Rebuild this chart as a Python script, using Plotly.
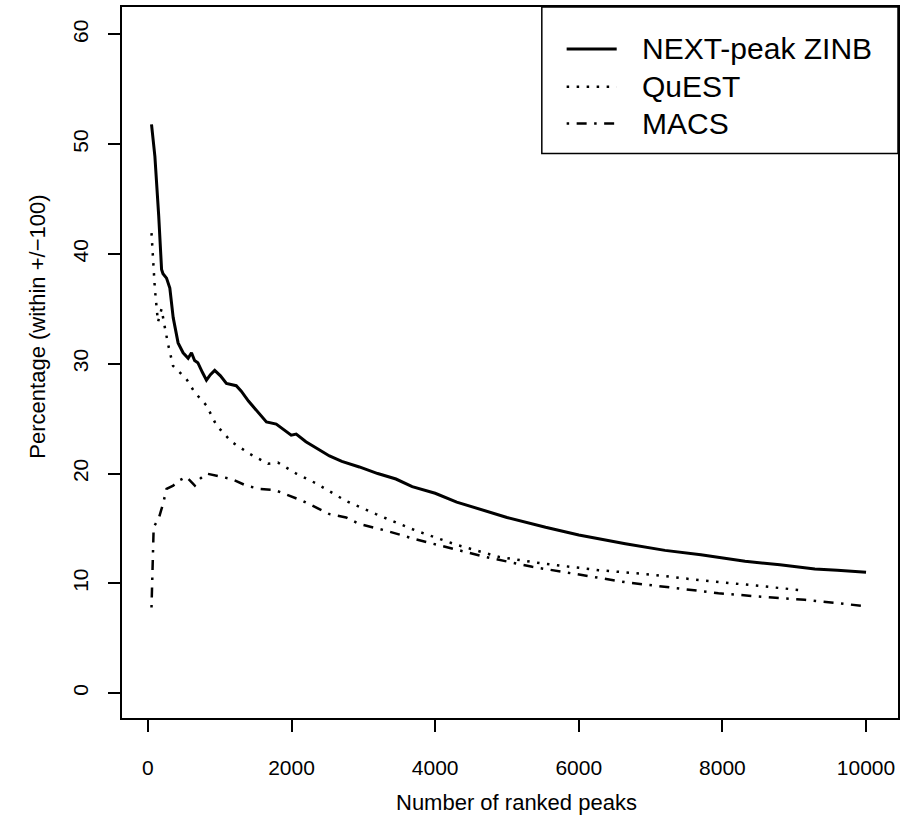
import plotly.graph_objects as go

# Number of top-ranked peaks considered
rank_next = [50, 97, 150, 190, 210, 259, 305, 352, 420, 490, 560, 607, 650, 695, 760,
             815, 870, 930, 1010, 1093, 1230, 1300, 1400, 1500, 1650, 1787, 1900, 1995,
             2065, 2200, 2350, 2528, 2700, 2944, 3200, 3454, 3680, 4000, 4300, 4655,
             5000, 5537, 6000, 6648, 7200, 7700, 8315, 8800, 9287, 9600, 10000]
pct_next = [51.8, 48.9, 43.5, 38.6, 38.2, 37.8, 36.9, 34.2, 31.9, 31.0, 30.5, 31.0, 30.3,
            30.1, 29.2, 28.5, 29.0, 29.4, 28.9, 28.2, 28.0, 27.5, 26.6, 25.8, 24.7, 24.5,
            24.0, 23.5, 23.6, 22.9, 22.3, 21.6, 21.1, 20.6, 20.0, 19.5, 18.8, 18.2, 17.4,
            16.7, 16.0, 15.1, 14.4, 13.6, 13.0, 12.6, 12.0, 11.7, 11.3, 11.2, 11.0]

rank_quest = [50, 72, 97, 140, 190, 230, 280, 350, 440, 537, 650, 815, 954, 1162, 1417,
              1671, 1810, 2065, 2343, 2759, 3176, 3731, 4300, 4889, 5500, 6278, 7000,
              7667, 8300, 9055]
pct_quest = [41.9, 39.8, 36.8, 33.8, 35.0, 33.5, 31.8, 29.8, 29.2, 28.6, 27.4, 26.2, 24.4,
             22.9, 21.8, 20.9, 21.0, 20.0, 19.1, 17.5, 16.3, 14.8, 13.5, 12.4, 11.8, 11.2,
             10.8, 10.3, 9.9, 9.4]

rank_macs = [50, 55, 65, 80, 155, 213, 259, 352, 444, 537, 653, 722, 815, 1000, 1162,
             1370, 1556, 1764, 1972, 2157, 2528, 2759, 2944, 3315, 3731, 4148, 4700,
             5352, 6000, 6648, 7300, 7944, 8500, 9148, 9600, 10000]
pct_macs = [7.8, 9.4, 12.1, 15.1, 16.0, 17.3, 18.6, 18.9, 19.4, 19.7, 18.9, 19.5, 20.0,
            19.7, 19.5, 18.9, 18.6, 18.5, 18.0, 17.5, 16.3, 16.0, 15.4, 14.8, 14.0, 13.3,
            12.4, 11.5, 10.8, 10.1, 9.6, 9.1, 8.8, 8.5, 8.2, 7.9]

series_names = ["NEXT-peak ZINB", "QuEST", "MACS"]
x_ticks = [0, 2000, 4000, 6000, 8000, 10000]
y_ticks = [0, 10, 20, 30, 40, 50, 60]
x_title = "Number of ranked peaks"
y_title = "Percentage (within +/\u2212100)"

FONT = "Liberation Sans, Arial, Helvetica, sans-serif"
styles = [
    dict(color="black", width=3, dash="solid"),
    dict(color="black", width=2.5, dash="2.5px,7.5px"),
    dict(color="black", width=2.5, dash="2.5px,7.5px,10px,7.5px"),
]

fig = go.Figure()
for name, xs, ys, st in zip(series_names, [rank_next, rank_quest, rank_macs],
                            [pct_next, pct_quest, pct_macs], styles):
    fig.add_trace(go.Scatter(x=xs, y=ys, mode="lines", name=name, line=st,
                             showlegend=False))

# Legend box (top right, inside the plotting region)
fig.add_shape(type="rect", xref="paper", yref="paper", x0=0.541, x1=1.0, y0=0.794, y1=1.0,
              line=dict(color="black", width=1.5), fillcolor="white", layer="above")
legend_rows = [0.941, 0.888, 0.836]
for name, yr, st in zip(series_names, legend_rows, styles):
    fig.add_shape(type="line", xref="paper", yref="paper", x0=0.573, x1=0.6375, y0=yr, y1=yr,
                  line=st, layer="above")
    fig.add_annotation(x=0.667, y=yr, xref="paper", yref="paper", text=name,
                       showarrow=False, xanchor="left", yanchor="middle",
                       font=dict(family=FONT, size=30, color="black"))

# Axis titles
fig.add_annotation(x=0.508, y=-0.119, xref="paper", yref="paper", text=x_title,
                   showarrow=False, xanchor="center", yanchor="middle",
                   font=dict(family=FONT, size=22, color="black"))
fig.add_annotation(x=-0.109, y=0.551, xref="paper", yref="paper", text=y_title,
                   showarrow=False, xanchor="center", yanchor="middle", textangle=-90,
                   font=dict(family=FONT, size=22, color="black"))

axis_common = dict(showgrid=False, zeroline=False, showline=True, linecolor="black",
                   linewidth=1.5, mirror=True, ticks="outside", ticklen=12, tickwidth=1.5,
                   tickcolor="black", tickfont=dict(family=FONT, size=21, color="black"))

fig.update_xaxes(range=[-361, 10445], tickvals=x_ticks, ticktext=[str(v) for v in x_ticks],
                 ticklabelstandoff=18, **axis_common)
fig.update_yaxes(range=[-2.27, 62.5], tickvals=y_ticks, ticktext=[str(v) for v in y_ticks],
                 tickangle=-90, ticklabelstandoff=12, **axis_common)

fig.update_layout(width=905, height=831, margin=dict(l=122, r=5, t=5, b=113),
                  plot_bgcolor="white", paper_bgcolor="white",
                  font=dict(family=FONT, color="black"))

fig.write_html("out.html")
